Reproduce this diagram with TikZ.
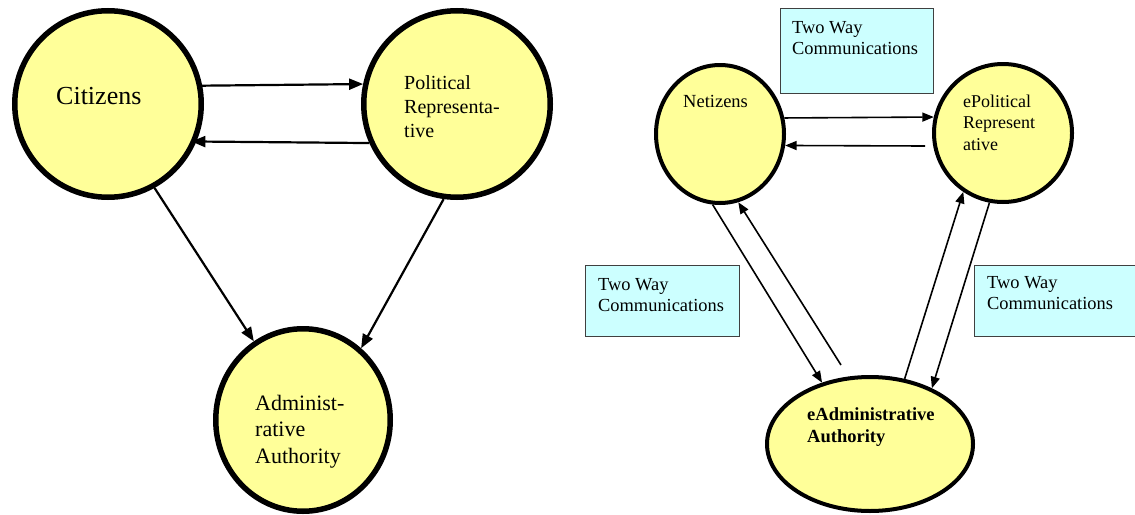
\documentclass[tikz,border=0pt]{standalone}
\usepackage{fontspec}
\setmainfont{Liberation Serif}
\usetikzlibrary{shapes.geometric,arrows.meta,calc}

\definecolor{bubble}{HTML}{FFFF99}
\definecolor{notefill}{HTML}{CCFFFF}
\definecolor{noteline}{HTML}{404040}

\tikzset{
  bigball/.style={ellipse, draw=black, fill=bubble, line width=5.5pt, inner sep=0pt},
  smallball/.style={ellipse, draw=black, fill=bubble, line width=4pt, inner sep=0pt},
  notebox/.style={rectangle, draw=noteline, fill=notefill, line width=1.3pt, inner sep=0pt, anchor=north west},
  txt/.style={inner sep=0pt, align=left, anchor=north west},
  arrL/.style={line width=2.2pt, -{Triangle[length=14pt,width=11pt]}},
  arrR/.style={line width=1.6pt, -{Triangle[length=11.5pt,width=9pt]}},
}

\begin{document}
\begin{tikzpicture}[x=1pt,y=-1pt]
\useasboundingbox (0,0) rectangle (1135,514);
\clip (0,0) rectangle (1135,514);

% ---------- traditional model ----------
\node[bigball, minimum width=186.5pt, minimum height=186.5pt] (cit) at (108,104) {};
\node[bigball, minimum width=186.5pt, minimum height=186.5pt] (pol) at (457,104) {};
\node[bigball, minimum width=174.5pt, minimum height=182.5pt] (adm) at (303,420) {};

\node[inner sep=0pt, anchor=base west, font=\fontsize{26}{31}\selectfont] (citT) at (56,104) {Citizens};
\node[txt, font=\fontsize{20}{24}\selectfont] (polT) at (404,75.3) {Political\\Representa-\\tive};
\node[txt, font=\fontsize{22}{26.5}\selectfont] (admT) at (255,395) {Administ-\\rative\\Authority};

\draw[arrL] (cit.11.4) -- (pol.168.6);
\draw[arrL, shorten >=-5pt] (pol.-156.7) -- (cit.-23.3);
\draw[arrL] (cit.-61.5) -- (adm.122.7);
\draw[arrL] (pol.-98.9) -- (adm.51.3);

% ---------- electronic model ----------
\node[notebox, minimum width=153pt, minimum height=85pt] (boxTop) at (780,8) {};
\node[notebox, minimum width=154pt, minimum height=71pt] (boxLeft) at (585,265) {};
\node[notebox, minimum width=170pt, minimum height=71pt] (boxRight) at (974,265) {};

\node[txt, font=\fontsize{18.4}{21}\selectfont] (boxTopT) at (792,20.8) {Two Way\\Communications};
\node[txt, font=\fontsize{18.4}{21}\selectfont] (boxLeftT) at (598,277.8) {Two Way\\Communications};
\node[txt, font=\fontsize{18.4}{21}\selectfont] (boxRightT) at (987,275.8) {Two Way\\Communications};

\node[smallball, minimum width=128pt, minimum height=138pt] (net) at (720,134) {};
\node[smallball, minimum width=138pt, minimum height=138pt] (epol) at (1003,133) {};
\node[smallball, minimum width=206pt, minimum height=134pt] (eadm) at (870,444) {};

\node[inner sep=0pt, anchor=base west, font=\fontsize{18.5}{22}\selectfont] (netT) at (683,107) {Netizens};
\node[txt, font=\fontsize{18}{21.5}\selectfont] (epolT) at (963,94.7) {ePolitical\\Represent\\ative};
\node[txt, font=\bfseries\fontsize{18.5}{22}\selectfont] (eadmT) at (807,407.5) {eAdministrative\\Authority};

\coordinate (epolOut) at ($(epol.center)+(-78,13)$);
\coordinate (eadmOut) at ($(eadm.center)+(-29,-79)$);

\draw[arrR] (net.14) -- (epol.167);
\draw[arrR] (epolOut) -- (net.-10.5);
\draw[arrR] (net.-96.3) -- (eadm.128.2);
\draw[arrR] (eadmOut) -- (net.-75.2);
\draw[arrR] (eadm.62.4) -- (epol.-124.3);
\draw[arrR] (epol.-101.5) -- (eadm.42.2);
\end{tikzpicture}
\end{document}
